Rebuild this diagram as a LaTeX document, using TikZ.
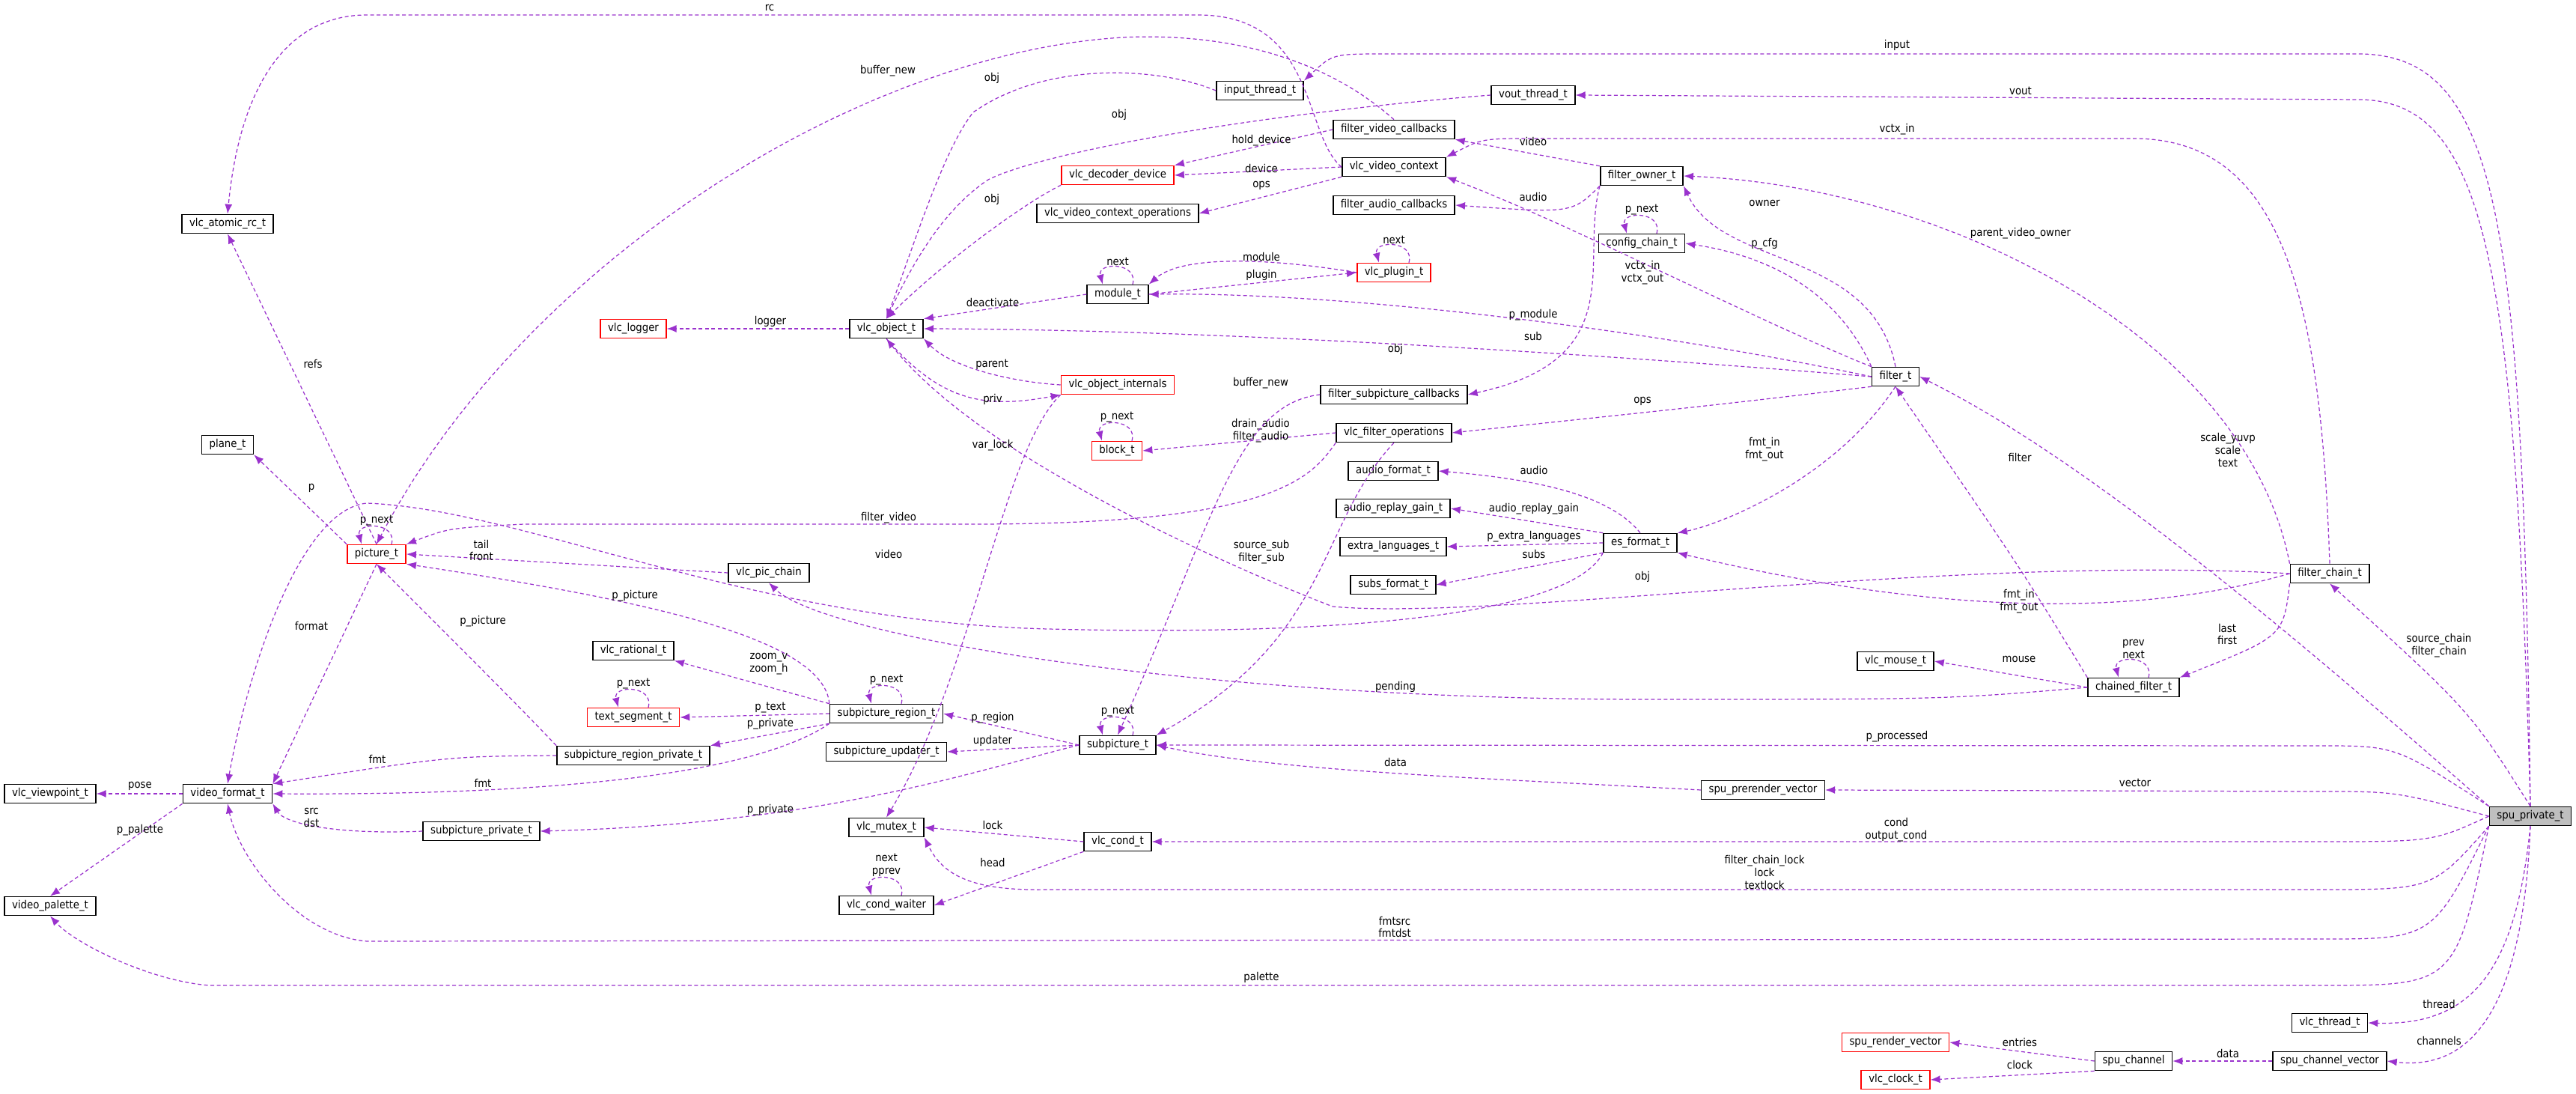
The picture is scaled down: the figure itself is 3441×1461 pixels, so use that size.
\documentclass[tikz,border=0pt]{standalone}
\usepackage{fontspec}
\setmainfont{DejaVu Sans Condensed}
\usetikzlibrary{arrows.meta,calc}
\definecolor{edgec}{HTML}{9A32CD}
\definecolor{hlgray}{HTML}{BFBFBF}
\newcommand{\selfloop}[2]{\draw[rel] ([xshift=0.2cm]#1.north) .. controls +(0.08cm,0.3cm) and +(-0.08cm,0.3cm) .. node[lbl,above,align=center]{#2} ([xshift=-0.2cm]#1.north);}

\begin{document}
\begin{tikzpicture}[x=0.01cm, y=-0.01cm, >={Latex[length=0.13cm,width=0.1cm]},
  every node/.style={font=\fontsize{4.2}{4.8}\selectfont}]
\tikzstyle{cls}=[rectangle, draw=black, line width=0.45pt, fill=white, inner xsep=0.1cm, inner ysep=0pt, minimum height=0.25cm]
\tikzstyle{clsred}=[cls, draw=red]
\tikzstyle{clshl}=[cls, fill=hlgray]
\tikzstyle{rel}=[->, draw=edgec, line width=0.35pt, dash pattern=on 0.05cm off 0.035cm]
\tikzstyle{lbl}=[inner sep=0.5pt, align=center]
\useasboundingbox (0,0) rectangle (3441,1461);

% top part
\node[cls] (input) at (1683,121) {input\_thread\_t};
\node[cls] (vout) at (2048,127) {vout\_thread\_t};
\node[cls] (fvc) at (1862,173) {filter\_video\_callbacks};
\node[cls] (vctx) at (1862,223) {vlc\_video\_context};
\node[clsred] (vdd) at (1493,234) {vlc\_decoder\_device};
\node[cls] (vops) at (1493,285) {vlc\_video\_context\_operations};
\node[cls] (fo) at (2193,235) {filter\_owner\_t};
\node[cls] (fac) at (1862,274) {filter\_audio\_callbacks};
\node[cls] (cc) at (2193,325) {config\_chain\_t};
\node[clsred] (plugin) at (1862,364) {vlc\_plugin\_t};
\node[cls] (mod) at (1493,393) {module\_t};
\node[cls] (vrc) at (304,299) {vlc\_atomic\_rc\_t};
\node[clsred] (logger) at (846,439) {vlc\_logger};
\node[cls] (vobj) at (1184,439) {vlc\_object\_t};
\node[cls] (ft) at (2532,503) {filter\_t};
\node[clsred] (vobi) at (1493,514) {vlc\_object\_internals};
\node[cls] (fsc) at (1862,527) {filter\_subpicture\_callbacks};
\node[cls] (vfo) at (1862,578) {vlc\_filter\_operations};
\node[clsred] (blk) at (1492,602) {block\_t};
\node[cls] (plane) at (304,594) {plane\_t};

% middle part
\node[cls] (afmt) at (1861,629) {audio\_format\_t};
\node[cls] (arg) at (1861,679) {audio\_replay\_gain\_t};
\node[cls] (xlang) at (1861,730) {extra\_languages\_t};
\node[cls] (subsf) at (1861,781) {subs\_format\_t};
\node[cls] (es) at (2191,725) {es\_format\_t};
\node[clsred] (pic) at (503,740) {picture\_t};
\node[cls] (vpc) at (1027,765) {vlc\_pic\_chain};
\node[cls] (fch) at (3112,766) {filter\_chain\_t};
\node[cls] (vrat) at (846,869) {vlc\_rational\_t};
\node[clsred] (tseg) at (846,958) {text\_segment\_t};
\node[cls] (sreg) at (1184,953) {subpicture\_region\_t};
\node[cls] (mouse) at (2532,883) {vlc\_mouse\_t};
\node[cls] (cf) at (2850,918) {chained\_filter\_t};
\node[cls] (sub) at (1493,995) {subpicture\_t};
\node[cls] (srpriv) at (846,1009) {subpicture\_region\_private\_t};
\node[cls] (supd) at (1184,1004) {subpicture\_updater\_t};
\node[cls] (vvp) at (67,1060) {vlc\_viewpoint\_t};
\node[cls] (vfmt) at (304,1060) {video\_format\_t};
\node[cls] (spv) at (2355,1055) {spu\_prerender\_vector};
\node[clshl] (spu) at (3380,1090) {spu\_private\_t};

% bottom part
\node[cls] (mutex) at (1184,1105) {vlc\_mutex\_t};
\node[cls] (cond) at (1493,1124) {vlc\_cond\_t};
\node[cls] (spriv) at (643,1110) {subpicture\_private\_t};
\node[cls] (waiter) at (1184,1209) {vlc\_cond\_waiter};
\node[cls] (vpal) at (67,1210) {video\_palette\_t};
\node[cls] (thread) at (3112,1366) {vlc\_thread\_t};
\node[clsred] (srv) at (2532,1392) {spu\_render\_vector};
\node[cls] (sch) at (2850,1417) {spu\_channel};
\node[cls] (scv) at (3112,1417) {spu\_channel\_vector};
\node[clsred] (clock) at (2532,1442) {vlc\_clock\_t};

% spu_private_t members
\draw[rel] (spu.north) .. controls (3370,300) and (3340,72) .. (3150,72) -- (1850,72) .. controls (1780,72) .. (input.north east) node[lbl,at={(2534,60)}]{input};
\draw[rel] (spu.north) .. controls (3360,350) and (3320,133) .. (3150,133) -- (vout.east) node[lbl,at={(2699,121)}]{vout};
\draw[rel] (spu.north west) .. controls (3100,880) and (2800,620) .. (ft.east) node[lbl,at={(2976,601)}]{scale\_yuvp\\scale\\text};
\draw[rel] (spu.north) .. controls (3300,950) .. (fch.south) node[lbl,at={(3258,862)}]{source\_chain\\filter\_chain};
\draw[rel] (spu.north west) .. controls (3200,996) .. (3100,996) -- (sub.east) node[lbl,at={(2534,984)}]{p\_processed};
\draw[rel] (spu.west) .. controls (3200,1057) .. (3100,1057) -- (spv.east) node[lbl,at={(2852,1045)}]{vector};
\draw[rel] (spu.west) .. controls (3250,1124) .. (3100,1124) -- (cond.east) node[lbl,at={(2533,1108)}]{cond\\output\_cond};
\draw[rel] (spu.south west) .. controls (3250,1188) .. (3100,1188) -- (1400,1188) .. controls (1300,1190) and (1260,1170) .. (mutex.south east) node[lbl,at={(2357,1165)}]{filter\_chain\_lock\\lock\\textlock};
\draw[rel] (spu.south west) .. controls (3250,1254) .. (3100,1254) -- (490,1257) .. controls (400,1250) and (320,1150) .. (vfmt.south) node[lbl,at={(1863,1238)}]{fmtsrc\\fmtdst};
\draw[rel] (spu.south west) .. controls (3280,1316) .. (3100,1316) -- (280,1316) .. controls (200,1310) and (100,1260) .. (vpal.south) node[lbl,at={(1685,1305)}]{palette};
\draw[rel] (spu.south) .. controls (3360,1300) and (3300,1370) .. (thread.east) node[lbl,at={(3258,1341)}]{thread};
\draw[rel] (spu.south) .. controls (3370,1350) and (3300,1430) .. (scv.east) node[lbl,at={(3258,1390)}]{channels};
\draw[rel] (scv.west) -- (sch.east) node[lbl,at={(2976,1407)}]{data};
\draw[rel] (sch.west) -- (srv.east) node[lbl,at={(2698,1392)}]{entries};
\draw[rel] (sch.south west) -- (clock.east) node[lbl,at={(2698,1422)}]{clock};

% filter chain
\draw[rel] (fch.north) .. controls (3100,400) and (3050,185) .. (2850,185) -- (2050,185) .. controls (1980,185) .. (vctx.north east) node[lbl,at={(2534,173)}]{vctx\_in};
\draw[rel] (fch.north west) .. controls (3000,450) and (2600,250) .. (fo.east) node[lbl,at={(2699,312)}]{parent\_video\_owner};
\draw[rel] (fch.south west) .. controls (3050,850) .. (cf.north east) node[lbl,at={(2975,847)}]{last\\first};
\draw[rel] (fch.west) .. controls (2800,840) and (2500,800) .. (es.south east) node[lbl,at={(2697,803)}]{fmt\_in\\fmt\_out};
\draw[rel] (fch.west) .. controls (2600,740) and (2000,830) .. (1780,810) .. controls (1600,740) and (1300,600) .. (vobj.south) node[lbl,at={(2194,770)}]{obj};
\draw[rel] (cf.north west) .. controls (2700,760) .. (ft.south) node[lbl,at={(2698,611)}]{filter};
\selfloop{cf}{prev\\next}
\draw[rel] (cf.west) -- (mouse.east) node[lbl,at={(2697,880)}]{mouse};
\draw[rel] (cf.west) .. controls (2600,934) .. (2200,934) .. controls (1600,934) and (1100,850) .. (vpc.south) node[lbl,at={(1864,917)}]{pending};

% filter_t members
\draw[rel] (ft.south west) .. controls (2300,540) .. (vfo.east) node[lbl,at={(2194,536)}]{ops};
\draw[rel] (ft.south) .. controls (2450,640) and (2300,700) .. (es.north east) node[lbl,at={(2357,600)}]{fmt\_in\\fmt\_out};
\draw[rel] (ft.west) .. controls (2200,440) and (1800,390) .. (mod.east) node[lbl,at={(2048,421)}]{p\_module};
\draw[rel] (ft.west) .. controls (2100,470) and (1600,440) .. (vobj.east) node[lbl,at={(1864,466)}]{obj};
\draw[rel] (ft.north west) .. controls (2450,380) and (2350,340) .. (cc.east) node[lbl,at={(2357,326)}]{p\_cfg};
\draw[rel] (ft.north) .. controls (2500,330) and (2300,360) .. (fo.south east) node[lbl,at={(2357,271)}]{owner};
\draw[rel] (ft.north west) .. controls (2350,430) and (2100,300) .. (vctx.south east) node[lbl,at={(2194,364)}]{vctx\_in\\vctx\_out};
\selfloop{cc}{p\_next}
\draw[rel] (fo.north west) -- (fvc.south east) node[lbl,at={(2048,189)}]{video};
\draw[rel] (fo.south west) .. controls (2100,285) .. (fac.east) node[lbl,at={(2048,263)}]{audio};
\draw[rel] (fo.south west) .. controls (2110,350) and (2180,480) .. (fsc.east) node[lbl,at={(2048,449)}]{sub};

% es_format_t members
\draw[rel] (es.north) .. controls (2150,660) and (2050,640) .. (afmt.east) node[lbl,at={(2049,628)}]{audio};
\draw[rel] (es.north west) -- (arg.east) node[lbl,at={(2049,680)}]{audio\_replay\_gain};
\draw[rel] (es.west) -- (xlang.east) node[lbl,at={(2049,717)}]{p\_extra\_languages};
\draw[rel] (es.south west) -- (subsf.east) node[lbl,at={(2049,740)}]{subs};
\draw[rel] (es.south west) .. controls (2100,820) and (1800,850) .. (1400,840) .. controls (1000,830) and (700,680) .. (490,672) .. controls (400,680) and (330,900) .. (vfmt.north) node[lbl,at={(1187,740)}]{video};

% filter operations and callbacks
\draw[rel] (vfo.south west) .. controls (1750,640) and (1700,700) .. (1300,700) -- (700,700) .. controls (600,705) .. (pic.north east) node[lbl,at={(1187,692)}]{filter\_video};
\draw[rel] (vfo.west) -- (blk.east) node[lbl,at={(1684,575)}]{drain\_audio\\filter\_audio};
\draw[rel] (vfo.south) .. controls (1760,700) and (1780,850) .. (sub.north east) node[lbl,at={(1685,737)}]{source\_sub\\filter\_sub};
\draw[rel] (fsc.west) .. controls (1650,540) and (1620,700) .. (sub.north) node[lbl,at={(1684,512)}]{buffer\_new};
\selfloop{blk}{p\_next}

% video context and objects
\draw[rel] (vctx.west) -- (vdd.east) node[lbl,at={(1685,225)}]{device};
\draw[rel] (vctx.south west) -- (vops.east) node[lbl,at={(1685,248)}]{ops};
\draw[rel] (fvc.west) -- (vdd.north east) node[lbl,at={(1685,188)}]{hold\_device};
\draw[rel] (vctx.west) .. controls (1740,180) and (1760,20) .. (1600,20) -- (490,20) .. controls (380,20) and (320,120) .. (vrc.north) node[lbl,at={(1028,10)}]{rc};
\draw[rel] (fvc.north) .. controls (1750,60) and (1600,45) .. (1500,50) .. controls (1150,70) and (700,350) .. (pic.north) node[lbl,at={(1186,95)}]{buffer\_new};
\draw[rel] (input.west) .. controls (1550,90) and (1400,80) .. (1300,150) .. controls (1260,200) and (1220,330) .. (vobj.north) node[lbl,at={(1325,104)}]{obj};
\draw[rel] (vout.west) .. controls (1700,150) and (1400,200) .. (1320,240) .. controls (1260,280) and (1220,350) .. (vobj.north) node[lbl,at={(1495,153)}]{obj};
\draw[rel] (vdd.south west) .. controls (1370,270) and (1260,350) .. (vobj.north) node[lbl,at={(1325,266)}]{obj};
\draw[rel] (mod.west) -- (vobj.north east) node[lbl,at={(1326,404)}]{deactivate};
\draw[rel] (vobj.west) -- (logger.east) node[lbl,at={(1029,429)}]{logger};
\draw[rel] (vobi.west) .. controls (1350,510) and (1270,490) .. (vobj.south east) node[lbl,at={(1325,487)}]{parent};
\draw[rel] (vobj.south) .. controls (1260,540) and (1320,545) .. (vobi.south west) node[lbl,at={(1326,533)}]{priv};
\draw[rel] (vobi.south west) .. controls (1340,600) and (1300,900) .. (mutex.north) node[lbl,at={(1326,595)}]{var\_lock};
\selfloop{mod}{next}
\draw[rel] (mod.east) -- (plugin.west) node[lbl,at={(1685,367)}]{plugin};
\draw[rel] (plugin.west) .. controls (1700,345) and (1580,340) .. (mod.north east) node[lbl,at={(1685,343)}]{module};
\selfloop{plugin}{next}

% picture and formats
\draw[rel] (pic.north) -- (vrc.south) node[lbl,at={(418,486)}]{refs};
\draw[rel] (pic.north west) -- (plane.south east) node[lbl,at={(416,652)}]{p};
\selfloop{pic}{p\_next}
\draw[rel] (pic.south) -- (vfmt.north east) node[lbl,at={(416,836)}]{format};
\draw[rel] (vpc.west) -- (pic.east) node[lbl,at={(643,735)}]{tail\\front};
\draw[rel] (sreg.north west) .. controls (1100,850) and (850,800) .. (pic.south east) node[lbl,at={(848,796)}]{p\_picture};
\draw[rel] (srpriv.north west) .. controls (700,950) and (600,850) .. (pic.south) node[lbl,at={(645,830)}]{p\_picture};
\draw[rel] (srpriv.west) .. controls (600,1010) .. (vfmt.north east) node[lbl,at={(504,1014)}]{fmt};
\draw[rel] (sreg.south west) .. controls (1000,1040) and (700,1062) .. (vfmt.east) node[lbl,at={(645,1046)}]{fmt};
\draw[rel] (spriv.west) .. controls (450,1115) and (380,1100) .. (vfmt.south east) node[lbl,at={(416,1092)}]{src\\dst};
\draw[rel] (vfmt.west) -- (vvp.east) node[lbl,at={(187,1050)}]{pose};
\draw[rel] (vfmt.south west) -- (vpal.north) node[lbl,at={(187,1109)}]{p\_palette};

% subpictures
\draw[rel] (sreg.north west) .. controls (1000,910) .. (vrat.south east) node[lbl,at={(1027,887)}]{zoom\_v\\zoom\_h};
\draw[rel] (sreg.west) -- (tseg.east) node[lbl,at={(1029,945)}]{p\_text};
\draw[rel] (sreg.south west) -- (srpriv.north east) node[lbl,at={(1029,967)}]{p\_private};
\selfloop{sreg}{p\_next}
\selfloop{tseg}{p\_next}
\draw[rel] (sub.west) -- (sreg.east) node[lbl,at={(1326,959)}]{p\_region};
\draw[rel] (sub.west) -- (supd.east) node[lbl,at={(1326,989)}]{updater};
\draw[rel] (sub.west) .. controls (1300,1030) and (1100,1100) .. (spriv.east) node[lbl,at={(1029,1082)}]{p\_private};
\selfloop{sub}{p\_next}
\draw[rel] (spv.west) .. controls (2000,1040) and (1700,1030) .. (sub.east) node[lbl,at={(1864,1018)}]{data};

% locks
\draw[rel] (cond.west) -- (mutex.east) node[lbl,at={(1326,1102)}]{lock};
\draw[rel] (cond.south west) -- (waiter.east) node[lbl,at={(1326,1152)}]{head};
\selfloop{waiter}{next\\pprev}
\end{tikzpicture}
\end{document}
